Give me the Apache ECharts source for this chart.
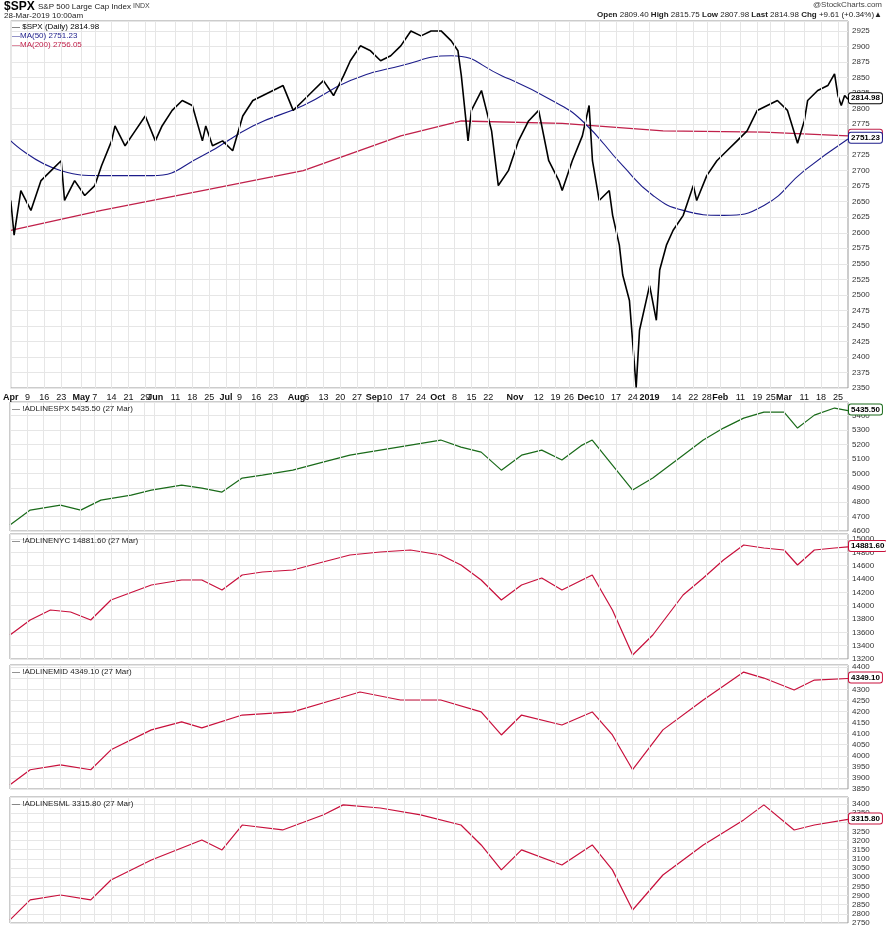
<!DOCTYPE html>
<html><head><meta charset="utf-8">
<script src="https://cdn.jsdelivr.net/npm/echarts@6/dist/echarts.min.js"></script>
<style>html,body{margin:0;background:#fff}#c{width:886px;height:936px}</style>
</head><body><div id="c"></div>
<script>
// trading-day index of each x tick label (Apr 2 2018 = 0)
const tickIdx = [0,5,10,15,21,25,30,35,40,43,49,54,59,64,68,73,78,85,88,93,98,103,108,112,117,122,127,132,137,142,150,157,162,166,171,175,180,185,190,198,203,207,211,217,222,226,230,236,241,246];
const tickLabels = ['Apr','9','16','23','May','7','14','21','29','Jun','11','18','25','Jul','9','16','23','Aug','6','13','20','27','Sep','10','17','24','Oct','8','15','22','Nov','12','19','26','Dec','10','17','24','2019','14','22','28','Feb','11','19','25','Mar','11','18','25'];
const monthNames = ['Apr','May','Jun','Jul','Aug','Sep','Oct','Nov','Dec','2019','Feb','Mar'];
const spx = [[0,2652],[1,2596],[3,2668],[6,2636],[9,2684],[12,2700],[15,2716],[16,2652],[19,2684],[22,2660],[25,2676],[27,2708],[30,2748],[31,2772],[34,2740],[37,2764],[40,2788],[43,2748],[45,2772],[48,2797],[51,2813],[54,2805],[57,2748],[58,2772],[60,2740],[63,2748],[66,2732],[69,2788],[72,2813],[75,2821],[78,2829],[81,2837],[84,2797],[87,2813],[90,2829],[93,2845],[96,2821],[99,2853],[101,2877],[104,2901],[107,2893],[110,2877],[113,2885],[116,2901],[119,2925],[122,2917],[125,2925],[128,2925],[131,2909],[133,2893],[134,2853],[136,2748],[137,2797],[140,2829],[143,2764],[145,2676],[148,2700],[151,2748],[154,2780],[157,2797],[160,2716],[163,2684],[164,2668],[167,2716],[170,2756],[172,2805],[173,2716],[175,2652],[178,2668],[179,2628],[181,2580],[182,2532],[184,2491],[186,2351],[187,2443],[189,2491],[190,2515],[192,2459],[193,2540],[195,2580],[197,2604],[200,2628],[203,2676],[204,2652],[207,2692],[210,2716],[213,2732],[216,2748],[219,2764],[222,2797],[225,2805],[228,2813],[231,2797],[234,2744],[236,2780],[237,2813],[240,2829],[243,2837],[245,2856],[246,2821],[247,2805],[248,2821],[249,2815]];
const ma50 = [[0,2748],[15,2700],[27,2692],[42,2692],[57,2724],[72,2772],[87,2805],[101,2845],[116,2869],[131,2885],[146,2853],[161,2813],[170,2780],[182,2708],[191,2660],[200,2636],[212,2628],[224,2644],[236,2700],[249,2751]];
const ma200 = [[0,2604],[27,2636],[57,2668],[87,2700],[116,2756],[134,2780],[164,2776],[194,2764],[224,2762],[249,2756]];
const adSpx = [[0,4641],[6,4745],[15,4780],[21,4745],[27,4814],[36,4849],[42,4884],[51,4918],[57,4897],[63,4870],[69,4967],[75,4988],[84,5022],[93,5078],[101,5126],[110,5161],[119,5196],[128,5231],[134,5182],[140,5147],[146,5022],[152,5126],[158,5161],[164,5092],[170,5196],[173,5231],[179,5057],[185,4884],[191,4967],[200,5126],[206,5231],[212,5314],[218,5383],[224,5425],[230,5425],[234,5314],[239,5404],[245,5453],[249,5435]];
const adNyc = [[0,13560],[6,13785],[12,13935],[18,13905],[24,13785],[30,14085],[42,14310],[51,14385],[57,14385],[63,14235],[69,14460],[75,14505],[84,14535],[93,14655],[101,14760],[110,14805],[119,14835],[128,14760],[134,14610],[140,14385],[146,14085],[152,14310],[158,14415],[164,14235],[170,14385],[173,14460],[179,13935],[185,13260],[191,13560],[200,14160],[206,14415],[212,14685],[218,14910],[224,14865],[230,14835],[234,14610],[239,14835],[245,14865],[249,14881]];
const adMid = [[0,3869],[6,3937],[15,3959],[24,3937],[30,4027],[42,4117],[51,4153],[57,4126],[69,4184],[84,4198],[96,4252],[104,4288],[116,4252],[128,4252],[140,4198],[146,4094],[152,4184],[164,4139],[173,4198],[179,4094],[185,3937],[194,4117],[206,4252],[218,4378],[224,4351],[233,4297],[239,4342],[249,4349]];
const adSml = [[0,2767],[6,2876],[15,2903],[24,2876],[30,2985],[42,3094],[57,3203],[63,3149],[69,3285],[81,3258],[93,3340],[99,3395],[110,3378],[122,3340],[134,3285],[140,3176],[146,3040],[152,3149],[164,3067],[173,3176],[179,3040],[185,2821],[194,3012],[206,3176],[218,3313],[224,3395],[233,3258],[239,3285],[249,3316]];

const N = 250;
const cats = new Array(N).fill('');
tickIdx.forEach((t,i)=>cats[t]=tickLabels[i]);
const F = "'Liberation Sans Narrow','Liberation Sans',Arial,sans-serif";
const gridDefs = [
  {top:21,height:367,min:2350,max:2941,int:25},
  {top:402,height:129,min:4600,max:5495,int:100},
  {top:534,height:125,min:13200,max:15075,int:200},
  {top:665,height:124,min:3850,max:4410,int:50},
  {top:797,height:126,min:2750,max:3438,int:50}
];
const isTick = (i)=>cats[i]!=='';
const vlines = gridDefs.map((g,k)=>({type:'line',xAxisIndex:k,yAxisIndex:k,data:[],silent:true,
  markLine:{symbol:'none',silent:true,label:{show:false},animation:false,lineStyle:{color:'#e6e6e6',type:'solid',width:1},
    data:tickIdx.map(t=>({xAxis:t}))},z:0}));
const option = {
  animation:false,
  grid: gridDefs.map(g=>({left:10,right:38,top:g.top,height:g.height,show:true,borderColor:'#999',borderWidth:1})),
  xAxis: gridDefs.map((g,k)=>({type:'category',gridIndex:k,data:cats,boundaryGap:false,
    axisLine:{show:false},axisTick:{show:false},
    splitLine:{show:false},
    axisLabel:{show:k===0,interval:isTick,margin:5,fontSize:9,fontFamily:F,color:'#111',
      formatter:v=>monthNames.includes(v)?'{b|'+v+'}':v,rich:{b:{fontWeight:'bold',fontSize:9,fontFamily:F}}}})),
  yAxis: gridDefs.map((g,k)=>({type:'value',gridIndex:k,position:'right',min:g.min,max:g.max,interval:g.int,
    axisLine:{show:false},axisTick:{show:false},
    splitLine:{lineStyle:{color:'#e6e6e6'}},
    axisLabel:{showMaxLabel:false,margin:4,fontSize:8,fontFamily:F,color:'#333',formatter:v=>String(v)}})),
  series:vlines.concat([
    {type:'line',xAxisIndex:0,yAxisIndex:0,data:ma200,showSymbol:false,lineStyle:{color:'#c0204a',width:1.3},z:2},
    {type:'line',xAxisIndex:0,yAxisIndex:0,data:ma50,showSymbol:false,smooth:true,lineStyle:{color:'#1c1c8a',width:1.1},z:2},
    {type:'line',xAxisIndex:0,yAxisIndex:0,data:spx,showSymbol:false,lineStyle:{color:'#000',width:1.6},z:3},
    {type:'line',xAxisIndex:1,yAxisIndex:1,data:adSpx,showSymbol:false,lineStyle:{color:'#1a6b1a',width:1.2}},
    {type:'line',xAxisIndex:2,yAxisIndex:2,data:adNyc,showSymbol:false,lineStyle:{color:'#c8103c',width:1.2}},
    {type:'line',xAxisIndex:3,yAxisIndex:3,data:adMid,showSymbol:false,lineStyle:{color:'#c8103c',width:1.2}},
    {type:'line',xAxisIndex:4,yAxisIndex:4,data:adSml,showSymbol:false,lineStyle:{color:'#c8103c',width:1.2}}
  ])
};
const chart = echarts.init(document.getElementById('c'));
chart.setOption(option);
function txt(x,y,t,o){return {type:'text',x,y,z:10,style:Object.assign({text:t,fontFamily:F,fontSize:9,fill:'#222'},o||{})};}
const g = [
  txt(4,1,'$SPX',{fontSize:12,fontWeight:'bold',fill:'#000'}),
  txt(38,3,'S&P 500 Large Cap Index',{fontSize:8}),
  txt(133,3,'INDX',{fontSize:7,fill:'#444'}),
  txt(4,12,'28-Mar-2019 10:00am',{fontSize:8}),
  {type:'text',right:4,top:1,style:{text:'@StockCharts.com',fontFamily:F,fontSize:8,fill:'#444'}},
  {type:'text',right:4,top:11,style:{text:'{b|Open} 2809.40 {b|High} 2815.75 {b|Low} 2807.98 {b|Last} 2814.98 {b|Chg} +9.61 (+0.34%)▲',fontFamily:F,fontSize:8,fill:'#222',rich:{b:{fontWeight:'bold',fontSize:8,fontFamily:F}}}},
  txt(12,23,'— $SPX (Daily) 2814.98',{fill:'#000',fontSize:8}),
  txt(12,32,'—MA(50) 2751.23',{fill:'#1c1c8a',fontSize:8}),
  txt(12,41,'—MA(200) 2756.05',{fill:'#c0204a',fontSize:8}),
  txt(12,405,'— !ADLINESPX 5435.50 (27 Mar)',{fontSize:8}),
  txt(12,537,'— !ADLINENYC 14881.60 (27 Mar)',{fontSize:8}),
  txt(12,668,'— !ADLINEMID 4349.10 (27 Mar)',{fontSize:8}),
  txt(12,800,'— !ADLINESML 3315.80 (27 Mar)',{fontSize:8})
];
const tags = [
  [0,2814.98,'2814.98','#000'],[0,2756.05,'2756.05','#c0204a'],[0,2751.23,'2751.23','#1c1c8a'],
  [1,5435.5,'5435.50','#1a6b1a'],[2,14881.6,'14881.60','#c8103c'],[3,4349.1,'4349.10','#c8103c'],[4,3315.8,'3315.80','#c8103c']
];
tags.forEach(([k,v,t,c])=>{
  const y = chart.convertToPixel({yAxisIndex:k},v);
  g.push({type:'text',x:849,y:y-6,z:10,style:{text:t,fontFamily:F,fontSize:8,fontWeight:'bold',fill:'#000',
    backgroundColor:'#fff',borderColor:c,borderWidth:1,borderRadius:2,padding:[1,2]}});
});
chart.setOption({graphic:g});
</script></body></html>
